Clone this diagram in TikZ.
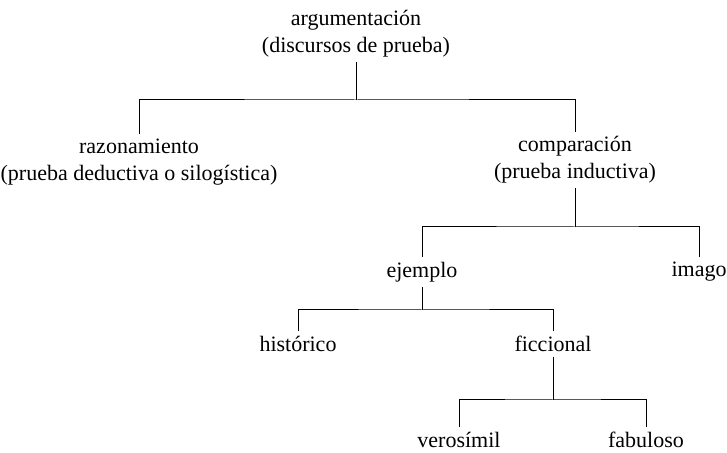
\documentclass[tikz,border=0pt]{standalone}
\usepackage{fontspec}
\setmainfont{Liberation Serif}
\usetikzlibrary{positioning}

\begin{document}
\begin{tikzpicture}[x=0.5pt, y=-0.5pt]
		\tikzstyle{term} = [align=center, inner sep=0pt, outer sep=2.5pt, font=\fontsize{11}{13.5}\selectfont]
		\tikzstyle{branch} = [line width=0.5pt]
		\useasboundingbox (0,0) rectangle (727,453);

		% top
		\node[term] (argumentacion) at (356, 34) {argumentación\\(discursos de prueba)};

		% second level
		\node[term] (razonamiento) at (139, 162) {razonamiento\\(prueba deductiva o silogística)};
		\node[term] (comparacion) at (575, 160) {comparación\\(prueba inductiva)};

		% third level
		\node[term] (ejemplo) at (422, 272) {ejemplo};
		\node[term] (imago) at (699, 272) {imago};

		% fourth level
		\node[term] (historico) at (298, 344) {histórico};
		\node[term] (ficcional) at (553, 344) {ficcional};

		% fifth level
		\node[term] (verosimil) at (459, 440) {verosímil};
		\node[term] (fabuloso) at (646, 440) {fabuloso};

		% junctions
		\coordinate (bar-argumentacion) at (356, 100);
		\coordinate (bar-comparacion) at (575, 227);
		\coordinate (bar-ejemplo) at (422, 310);
		\coordinate (bar-ficcional) at (553, 400);

		% connections
		\foreach \parent / \left / \right in {argumentacion/razonamiento/comparacion, comparacion/ejemplo/imago, ejemplo/historico/ficcional, ficcional/verosimil/fabuloso}
		{
			\draw[branch] (\parent) -- (bar-\parent);
			\draw[branch] (\left) |- (bar-\parent) -| (\right);
		}
	\end{tikzpicture}
\end{document}
